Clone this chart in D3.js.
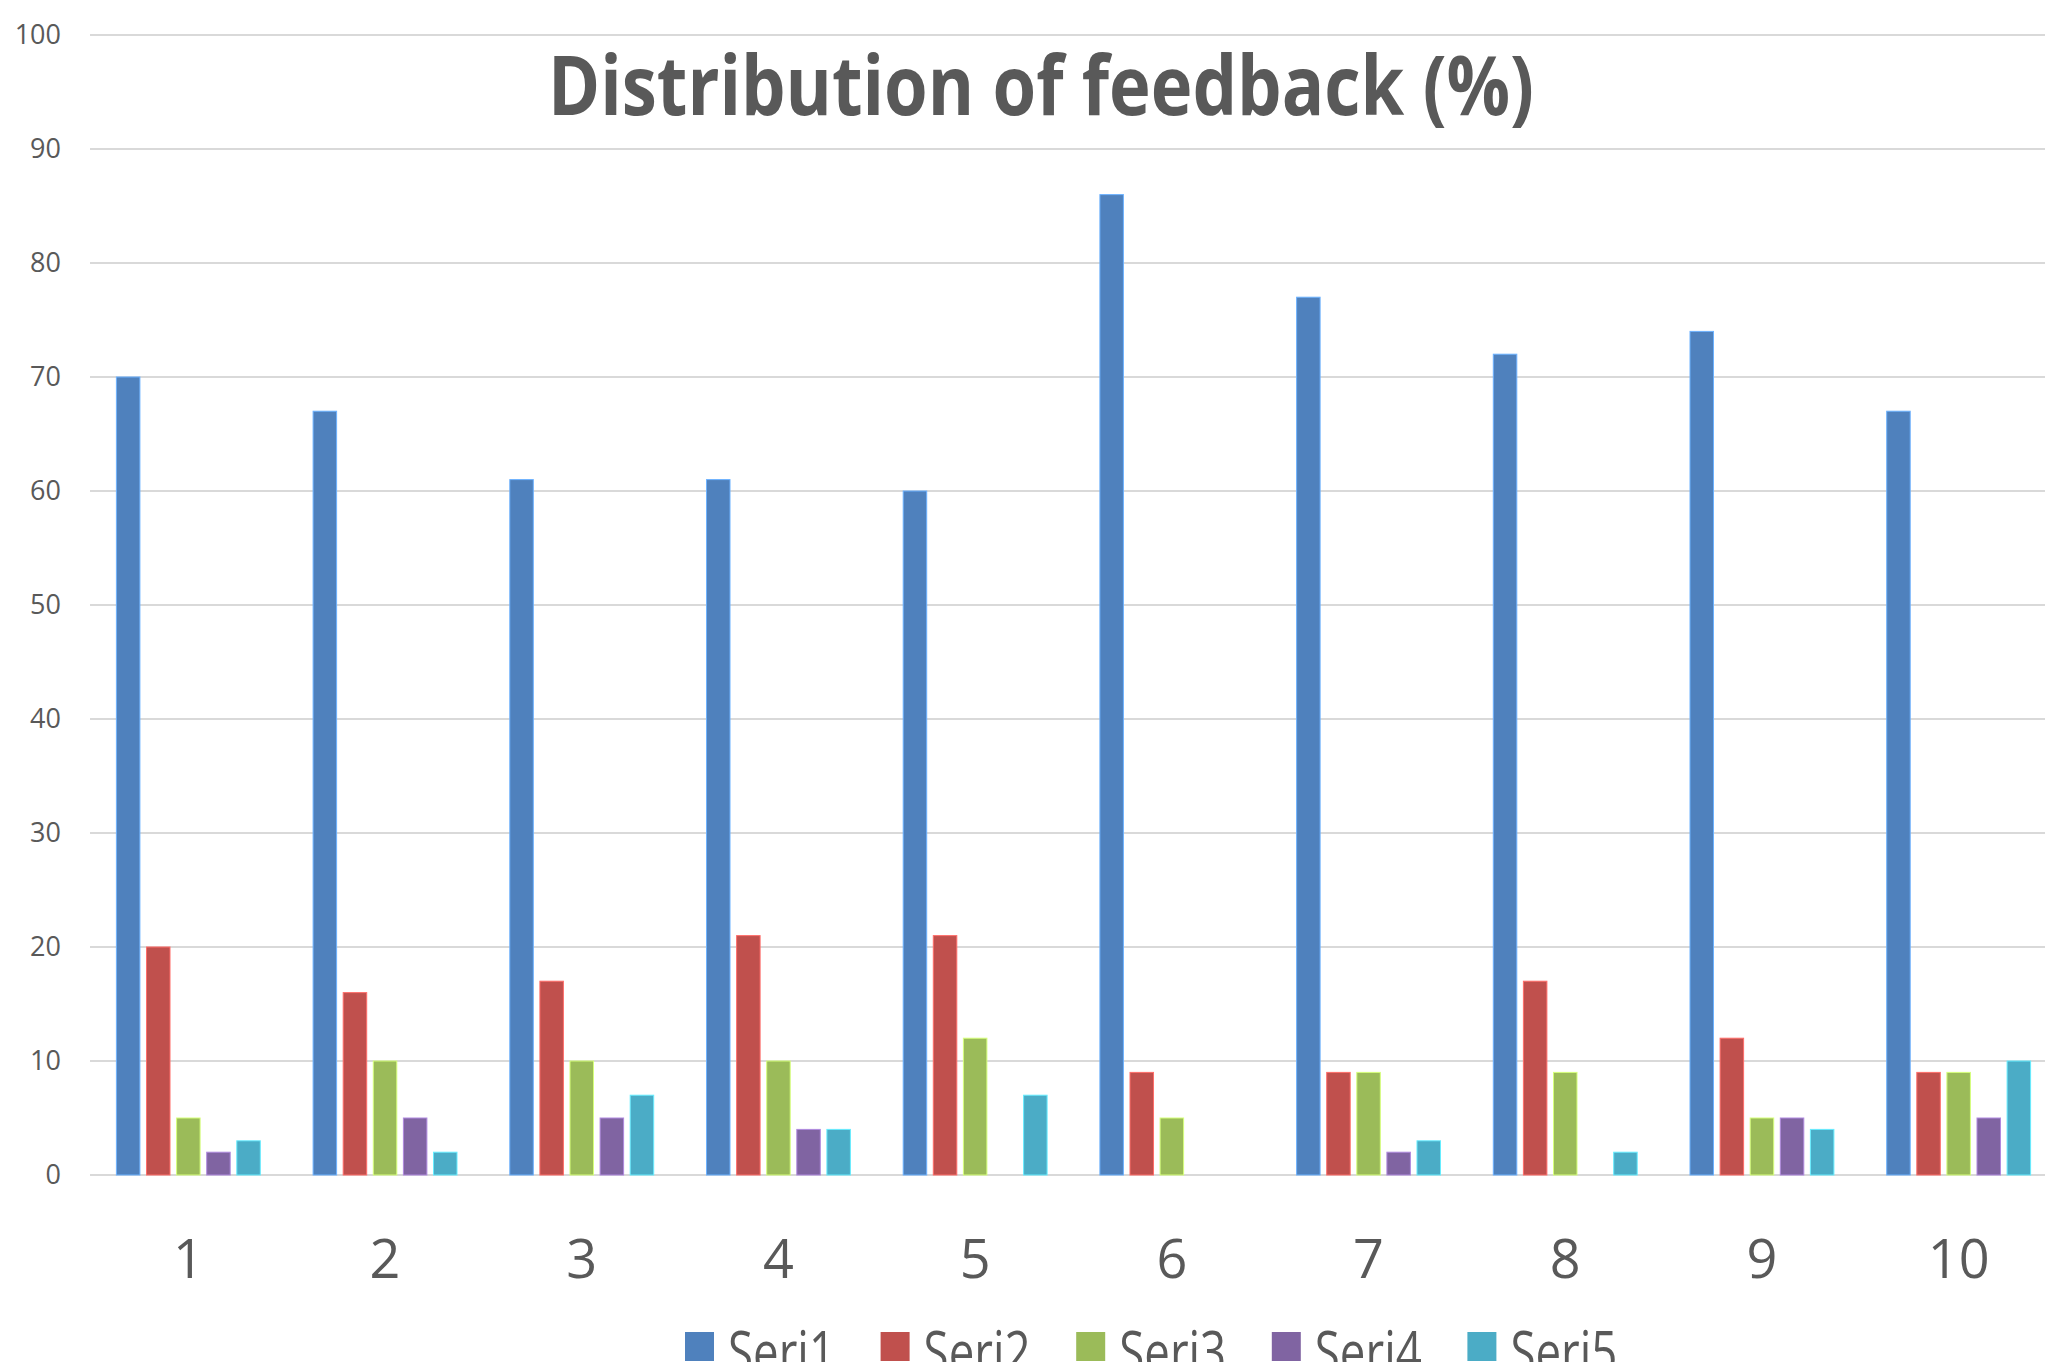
<!DOCTYPE html>
<html>
<head>
<meta charset="utf-8">
<script src="https://cdnjs.cloudflare.com/ajax/libs/d3/7.8.5/d3.min.js"></script>
<style>
  body { margin: 0; background: #fff; overflow: hidden; }
  text { font-family: "Open Sans", "Noto Sans", sans-serif; fill: #595959; }
</style>
</head>
<body>
<div id="chart"></div>
<script>
var categories = ["1", "2", "3", "4", "5", "6", "7", "8", "9", "10"];
var seriesNames = ["Seri1", "Seri2", "Seri3", "Seri4", "Seri5"];
var seri1 = [70, 67, 61, 61, 60, 86, 77, 72, 74, 67];
var seri2 = [20, 16, 17, 21, 21, 9, 9, 17, 12, 9];
var seri3 = [5, 10, 10, 10, 12, 5, 9, 9, 5, 9];
var seri4 = [2, 5, 5, 4, 0, 0, 2, 0, 5, 5];
var seri5 = [3, 2, 7, 4, 7, 0, 3, 2, 4, 10];
var yTicks = [0, 10, 20, 30, 40, 50, 60, 70, 80, 90, 100];
var colors = ["#4F81BD", "#C0504D", "#9BBB59", "#8064A2", "#4BACC6"];

var width = 2045,
    height = 1362;

var allSeries = [seri1, seri2, seri3, seri4, seri5];

var svg = d3.select("#chart")
    .append("svg")
    .attr("width", width)
    .attr("height", height);

// plot area runs past the right edge, like the cropped original
var x0 = d3.scaleBand().domain(categories).range([90, 2057]);
var x1 = d3.scaleBand().domain(seriesNames)
    .range([26.4, x0.bandwidth() - 26.4])
    .paddingInner(0.219);
var y = d3.scaleLinear().domain([0, 100]).range([1175, 35]);

var color = d3.scaleOrdinal().domain(seriesNames).range(colors);

// gridlines
svg.append("g")
    .selectAll("line")
    .data(yTicks)
    .enter().append("line")
    .attr("x1", 90)
    .attr("x2", width)
    .attr("y1", function(d) { return y(d) })
    .attr("y2", function(d) { return y(d) })
    .attr("stroke", "#d9d9d9")
    .attr("stroke-width", 2);

// y axis labels
var yAxis = d3.axisLeft(y).tickValues(yTicks).tickSize(0).tickPadding(0);
var yg = svg.append("g")
    .attr("transform", "translate(61,0)")
    .call(yAxis);
yg.select(".domain").remove();
yg.selectAll("text")
    .attr("font-size", 27)
    .attr("fill", "#595959")
    .attr("font-family", "Open Sans");

// bars
var groups = svg.append("g")
    .selectAll("g")
    .data(categories)
    .enter().append("g")
    .attr("transform", function(d) { return "translate(" + x0(d) + ",0)" });

groups.selectAll("rect")
    .data(function(d, i) {
        return seriesNames.map(function(s, j) {
            return { key: s, value: allSeries[j][i] };
        });
    })
    .enter().append("rect")
    .filter(function(d) { return d.value > 0 })
    .attr("x", function(d) { return x1(d.key) })
    .attr("y", function(d) { return y(d.value) })
    .attr("width", x1.bandwidth())
    .attr("height", function(d) { return y(0) - y(d.value) })
    .attr("fill", function(d) { return color(d.key) })
    .attr("stroke", function(d) { return d3.color(color(d.key)).brighter(0.9) })
    .attr("stroke-width", 1);

// x axis labels
var xAxis = d3.axisBottom(x0).tickSize(0).tickPadding(0);
var xg = svg.append("g")
    .attr("transform", "translate(0,1278)")
    .call(xAxis);
xg.select(".domain").remove();
xg.selectAll("text")
    .attr("dy", 0)
    .attr("font-size", 54)
    .attr("fill", "#595959")
    .attr("font-family", "Open Sans");

// title
svg.append("text")
    .attr("x", 1041)
    .attr("y", 115)
    .attr("text-anchor", "middle")
    .attr("font-size", 82)
    .attr("font-weight", "bold")
    .attr("textLength", 986)
    .attr("lengthAdjust", "spacingAndGlyphs")
    .text("Distribution of feedback (%)");

// legend
var legend = svg.append("g")
    .selectAll("g")
    .data(seriesNames)
    .enter().append("g")
    .attr("transform", function(d, i) { return "translate(" + (685 + i * 195.6) + ",1332)" });

legend.append("rect")
    .attr("width", 29)
    .attr("height", 29)
    .attr("fill", function(d) { return color(d) });

legend.append("text")
    .attr("x", 43)
    .attr("y", 41)
    .attr("font-size", 58)
    .attr("textLength", 107)
    .attr("lengthAdjust", "spacingAndGlyphs")
    .text(function(d) { return d });
</script>
</body>
</html>
